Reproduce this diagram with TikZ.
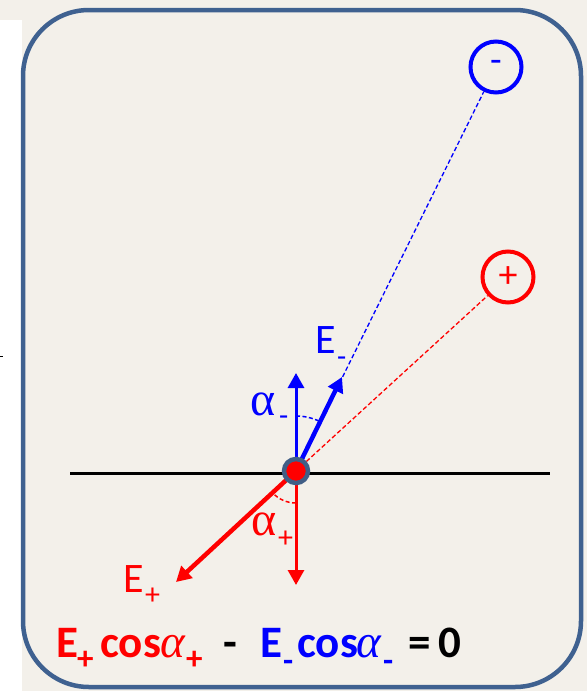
\documentclass[tikz,border=0pt]{standalone}
\usepackage{fontspec}
\setmainfont{Carlito}
\newfontfamily\grk{Liberation Serif}
\usetikzlibrary{arrows.meta}
\definecolor{bg}{HTML}{F3F0EA}
\definecolor{framec}{HTML}{3F6190}
\definecolor{ringc}{HTML}{405E86}
\begin{document}
\begin{tikzpicture}[x=1pt,y=-1pt,
  lbl/.style={anchor=base west, inner sep=0pt, font=\fontsize{42}{42}\selectfont},
  glbl/.style={anchor=base west, inner sep=0pt, font=\fontsize{48}{48}\selectfont\grk},
  sublbl/.style={anchor=base west, inner sep=0pt, font=\fontsize{30}{30}\selectfont},
  eq/.style={anchor=base west, inner sep=0pt, font=\fontsize{45}{45}\selectfont\bfseries},
  eqg/.style={anchor=base west, inner sep=0pt, font=\fontsize{47}{47}\selectfont\grk\itshape},
  eqsub/.style={anchor=base west, inner sep=0pt, font=\fontsize{33}{33}\selectfont\bfseries},
  charge/.style={circle, line width=4pt, minimum size=51pt, inner sep=0pt, font=\fontsize{38}{38}\selectfont},
  vec/.style={line width=3pt, -{Triangle[length=15pt,width=16pt]}},
  fvec/.style={line width=4.5pt, -{Triangle[length=15pt,width=16pt]}},
  guide/.style={line width=1.3pt, dash pattern=on 4.5pt off 2.5pt},
  anglemark/.style={line width=1.5pt, dash pattern=on 4pt off 2.5pt}]
\useasboundingbox (0,0) rectangle (587,691);
\fill[bg] (0,0) rectangle (587,691);
\fill[white] (0,20) rectangle (22,691);
\draw[line width=1pt] (0,356) -- (3,356);
\draw[framec, line width=4.5pt, rounded corners=66pt] (23,10) rectangle (581,687);

\coordinate (O) at (296,471);
\coordinate (L) at (70,473);
\coordinate (R) at (550,473);
\draw[line width=3pt] (L) -- (R);

\node[charge, draw=blue, text=blue] (neg) at (496,67) {\raisebox{2pt}{-}};
\node[charge, draw=red, text=red] (pos) at (508,277) {+};

\draw[blue, guide] (O) -- (neg);
\draw[red, guide] (O) -- (pos);

\coordinate (up) at (296,373);
\coordinate (Em) at (342,377);
\coordinate (down) at (296,585);
\coordinate (Ep) at (176,582);

\draw[blue, vec] (O) -- (up);
\draw[blue, fvec] (O) -- (Em);
\draw[red, vec] (O) -- (down);
\draw[red, fvec] (O) -- (Ep);

\draw[blue, anglemark] (O) ++(-90:55) arc[start angle=-90, end angle=-64, radius=55];
\draw[red, anglemark] (O) ++(90:32) arc[start angle=90, end angle=138, radius=32];

\node[circle, fill=red, draw=ringc, line width=4.5pt, minimum size=24pt, inner sep=0pt] (dot) at (O) {};

% labels
\node[lbl, text=blue] (lEm) at (315,353) {E};
\node[sublbl, text=blue] (lEms) at (337,366) {-};
\node[glbl, text=blue] (lam) at (250,415) {α};
\node[sublbl, text=blue] (lams) at (279,425) {-};
\node[glbl, text=red] (lap) at (251,535) {α};
\node[sublbl, text=red] (laps) at (278,547) {+};
\node[lbl, text=red] (lEp) at (123,592) {E};
\node[sublbl, text=red] (lEps) at (145,604) {+};

% equation
\node[eq, text=red] (e1) at (56,657) {E};
\node[eqsub, text=red] (e1s) at (77,669) {+};
\node[eq, text=red] (e2) at (100,657) {cos};
\node[eqg, text=red] (e3) at (160,657) {α};
\node[eqsub, text=red] (e3s) at (186,669) {+};
\node[eq] (e4) at (223,657) {-};
\node[eq, text=blue] (e5) at (260,657) {E};
\node[eqsub, text=blue] (e5s) at (283,671) {-};
\node[eq, text=blue] (e6) at (297,657) {cos};
\node[eqg, text=blue] (e7) at (356,657) {α};
\node[eqsub, text=blue] (e7s) at (383,671) {-};
\node[eq] (e8) at (408,657) {=};
\node[eq] (e9) at (438,657) {0};
\end{tikzpicture}
\end{document}
